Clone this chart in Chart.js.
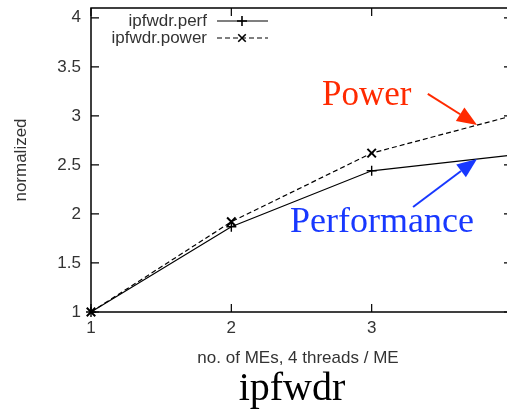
<!DOCTYPE html>
<html><head><meta charset="utf-8">
<script src="https://cdn.jsdelivr.net/npm/chart.js@4"></script>
<style>
html,body{margin:0;padding:0;overflow:hidden;background:#fff;width:507px;height:411px}
#wrap{position:absolute;left:0;top:0;width:525px;height:411px}
</style>
</head><body><div id="wrap"><canvas id="c" width="525" height="411"></canvas></div>
<script>
// ---- data ----
const categories = [1, 2, 3, 4];
const perfValues = [1, 1.87, 2.44, 2.6];
const powerValues = [1, 1.92, 2.62, 3.0];
const seriesLabels = ['ipfwdr.perf', 'ipfwdr.power'];
const xTickValues = [1, 2, 3, 4];
const yTickValues = [1, 1.5, 2, 2.5, 3, 3.5, 4];
const xAxisTitle = 'no. of MEs, 4 threads / ME';
const yAxisTitle = 'normalized';
const chartTitle = 'ipfwdr';
const annotationTexts = ['Power', 'Performance'];
// annotation anchors in data coordinates
const annoTextAt = [[2.646, 3.112], [2.418, 1.816]];
const annoArrowFrom = [[3.40, 3.224], [3.295, 2.071]];
const annoArrowTo = [[3.751, 2.908], [3.751, 2.561]];
const annoColors = ['#ff2a00', '#1838ff'];
const annoSizes = [35, 36];

const SANS = "'Liberation Sans', Arial, sans-serif";
const SERIF = "'Liberation Serif', 'Times New Roman', serif";

const toPts = vals => categories.map((c, i) => ({x: c, y: vals[i]}));

function drawMarker(ctx, style, x, y, r) {
  ctx.beginPath();
  if (style === 'cross') {
    ctx.moveTo(x - r, y); ctx.lineTo(x + r, y);
    ctx.moveTo(x, y - r); ctx.lineTo(x, y + r);
  } else {
    const d = r * 0.75;
    ctx.moveTo(x - d, y - d); ctx.lineTo(x + d, y + d);
    ctx.moveTo(x - d, y + d); ctx.lineTo(x + d, y - d);
  }
  ctx.stroke();
}

const framePlugin = {
  id: 'frame',
  afterDraw(chart) {
    const ctx = chart.ctx;
    const a = chart.chartArea;
    const xs = chart.scales.x, ys = chart.scales.y;
    ctx.save();
    // frame
    ctx.strokeStyle = '#000';
    ctx.lineWidth = 1.5;
    ctx.strokeRect(a.left, a.top, a.right - a.left, a.bottom - a.top);
    // inward ticks (mirrored)
    ctx.lineWidth = 1.2;
    const tl = 8;
    ctx.beginPath();
    ys.ticks.forEach(t => {
      const py = ys.getPixelForValue(t.value);
      ctx.moveTo(a.left, py); ctx.lineTo(a.left + tl, py);
      ctx.moveTo(a.right, py); ctx.lineTo(a.right - tl, py);
    });
    xs.ticks.forEach(t => {
      const px = xs.getPixelForValue(t.value);
      ctx.moveTo(px, a.bottom); ctx.lineTo(px, a.bottom - tl);
      ctx.moveTo(px, a.top); ctx.lineTo(px, a.top + tl);
    });
    ctx.stroke();

    // legend
    ctx.font = '17px ' + SANS;
    ctx.fillStyle = '#333';
    ctx.textAlign = 'right';
    ctx.textBaseline = 'middle';
    const legY = [21, 38];
    chart.data.datasets.forEach((ds, i) => {
      const y = legY[i];
      ctx.fillText(ds.label, 207, y);
      ctx.strokeStyle = '#000';
      ctx.lineWidth = 1.2;
      ctx.setLineDash(ds.borderDash || []);
      ctx.beginPath(); ctx.moveTo(217, y); ctx.lineTo(268, y); ctx.stroke();
      ctx.setLineDash([]);
      ctx.lineWidth = 1.6;
      drawMarker(ctx, ds.pointStyle, 242, y, 5);
    });

    // axis titles
    ctx.fillStyle = '#333';
    ctx.textAlign = 'center';
    ctx.textBaseline = 'alphabetic';
    ctx.font = '17px ' + SANS;
    ctx.fillText(xAxisTitle, 298, 363);
    ctx.save();
    ctx.translate(26, 160);
    ctx.rotate(-Math.PI / 2);
    ctx.fillText(yAxisTitle, 0, 0);
    ctx.restore();
    ctx.fillStyle = '#000';
    ctx.font = '40px ' + SERIF;
    ctx.fillText(chartTitle, 292, 400);

    // annotations
    annotationTexts.forEach((txt, i) => {
      const col = annoColors[i];
      ctx.fillStyle = col;
      ctx.strokeStyle = col;
      ctx.font = annoSizes[i] + 'px ' + SERIF;
      ctx.textAlign = 'left';
      ctx.fillText(txt, xs.getPixelForValue(annoTextAt[i][0]), ys.getPixelForValue(annoTextAt[i][1]));
      const x0 = xs.getPixelForValue(annoArrowFrom[i][0]), y0 = ys.getPixelForValue(annoArrowFrom[i][1]);
      const x1 = xs.getPixelForValue(annoArrowTo[i][0]), y1 = ys.getPixelForValue(annoArrowTo[i][1]);
      const ang = Math.atan2(y1 - y0, x1 - x0);
      const hl = 20, hw = 8;
      const bx = x1 - hl * Math.cos(ang), by = y1 - hl * Math.sin(ang);
      ctx.lineWidth = 2;
      ctx.beginPath(); ctx.moveTo(x0, y0); ctx.lineTo(bx, by); ctx.stroke();
      ctx.beginPath();
      ctx.moveTo(x1, y1);
      ctx.lineTo(bx + hw * Math.sin(ang), by - hw * Math.cos(ang));
      ctx.lineTo(bx - hw * Math.sin(ang), by + hw * Math.cos(ang));
      ctx.closePath();
      ctx.fill();
    });
    ctx.restore();
  }
};

new Chart(document.getElementById('c'), {
  type: 'line',
  data: {
    datasets: [
      {
        label: seriesLabels[0], data: toPts(perfValues),
        borderColor: '#000', backgroundColor: '#000', borderWidth: 1.2,
        pointStyle: 'cross', pointRadius: 5, pointBorderWidth: 1.4, pointBorderColor: '#000',
        tension: 0, clip: false
      },
      {
        label: seriesLabels[1], data: toPts(powerValues),
        borderColor: '#000', backgroundColor: '#000', borderWidth: 1.2, borderDash: [5, 3],
        pointStyle: 'crossRot', pointRadius: 6, pointBorderWidth: 2, pointBorderColor: '#000',
        tension: 0, clip: false
      }
    ]
  },
  options: {
    responsive: false,
    animation: false,
    devicePixelRatio: 1,
    layout: {padding: {top: 8, right: 13, left: 0, bottom: 0}},
    plugins: {legend: {display: false}, tooltip: {enabled: false}, title: {display: false}},
    scales: {
      x: {
        type: 'linear', min: 1, max: 4,
        afterBuildTicks: s => { s.ticks = xTickValues.map(v => ({value: v})); },
        afterFit: s => { s.height = 99; s.paddingLeft = 0; s.paddingRight = 0; },
        grid: {display: false, drawTicks: false},
        border: {display: false},
        ticks: {padding: 6, color: '#333', font: {family: SANS, size: 17}, maxRotation: 0, autoSkip: false,
                callback: v => String(v)}
      },
      y: {
        type: 'linear', min: 1, max: 4.1,
        afterBuildTicks: s => { s.ticks = yTickValues.map(v => ({value: v})); },
        afterFit: s => { s.width = 91; s.paddingTop = 0; s.paddingBottom = 0; },
        grid: {display: false, drawTicks: false},
        border: {display: false},
        ticks: {padding: 10, color: '#333', font: {family: SANS, size: 17}, autoSkip: false,
                callback: v => String(v)}
      }
    }
  },
  plugins: [framePlugin]
});
</script>
</body></html>
